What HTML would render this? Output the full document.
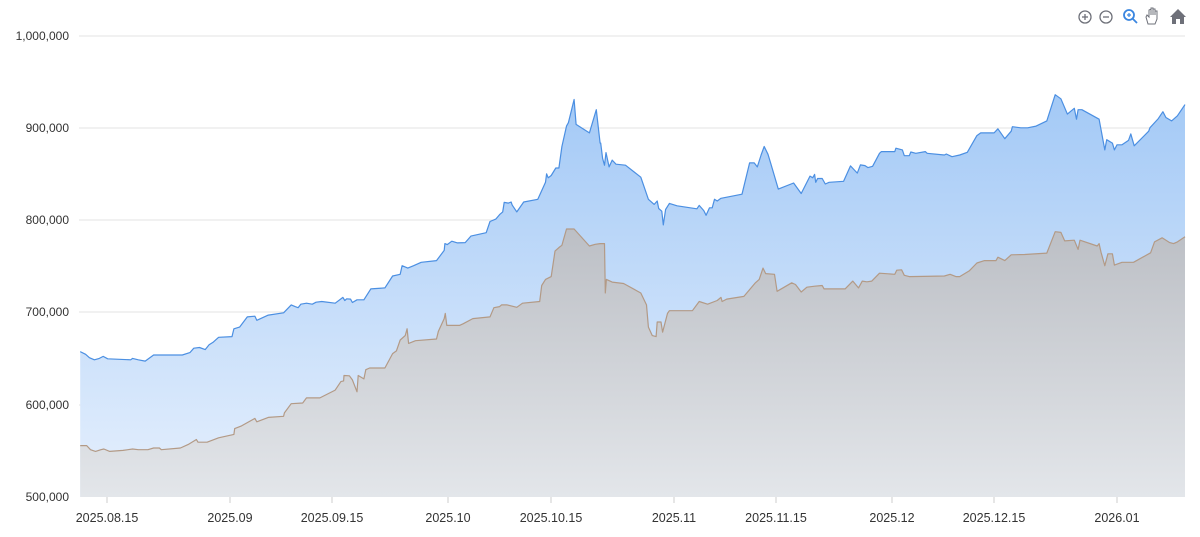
<!DOCTYPE html>
<html><head><meta charset="utf-8"><style>
html,body{margin:0;padding:0;background:#fff;width:1200px;height:537px;overflow:hidden}
svg{display:block;font-family:"Liberation Sans",sans-serif}
</style></head><body>
<svg id="s" width="1200" height="537" viewBox="0 0 1200 537">
<defs>
<linearGradient id="gb" x1="0" y1="0" x2="0" y2="1"><stop offset="0" stop-color="#a3c9f6"/><stop offset="1" stop-color="#e6f0fd"/></linearGradient>
<linearGradient id="gg" x1="0" y1="0" x2="0" y2="1"><stop offset="0" stop-color="#bcbfc5"/><stop offset="1" stop-color="#e3e6ea"/></linearGradient>
</defs>
<g stroke="#e3e3e3" stroke-width="1">
<line x1="79" x2="1185" y1="36" y2="36"/><line x1="79" x2="1185" y1="128" y2="128"/><line x1="79" x2="1185" y1="220" y2="220"/><line x1="79" x2="1185" y1="312" y2="312"/><line x1="79" x2="1185" y1="405" y2="405"/>
</g>
<g id="areas"></g>
<g fill="#333" font-size="12" text-anchor="end">
<text x="69" y="40">1,000,000</text><text x="69" y="132">900,000</text><text x="69" y="224">800,000</text><text x="69" y="316">700,000</text><text x="69" y="409">600,000</text><text x="69" y="501">500,000</text>
</g>
<g stroke="#ccc"><line x1="107" x2="107" y1="497" y2="503"/><line x1="230" x2="230" y1="497" y2="503"/><line x1="332" x2="332" y1="497" y2="503"/><line x1="448" x2="448" y1="497" y2="503"/><line x1="551" x2="551" y1="497" y2="503"/><line x1="674" x2="674" y1="497" y2="503"/><line x1="776" x2="776" y1="497" y2="503"/><line x1="892" x2="892" y1="497" y2="503"/><line x1="994" x2="994" y1="497" y2="503"/><line x1="1117" x2="1117" y1="497" y2="503"/></g>
<g fill="#333" font-size="12.5" text-anchor="middle">
<text x="107" y="522">2025.08.15</text><text x="230" y="522">2025.09</text><text x="332" y="522">2025.09.15</text><text x="448" y="522">2025.10</text><text x="551" y="522">2025.10.15</text><text x="674" y="522">2025.11</text><text x="776" y="522">2025.11.15</text><text x="892" y="522">2025.12</text><text x="994" y="522">2025.12.15</text><text x="1117" y="522">2026.01</text>
</g>
<g fill="none" stroke="#6e7079" stroke-width="1.3">
<circle cx="1085" cy="17" r="6"/><line x1="1082" x2="1088" y1="17" y2="17"/><line x1="1085" x2="1085" y1="14" y2="20"/>
<circle cx="1106" cy="17" r="6"/><line x1="1103" x2="1109" y1="17" y2="17"/>
</g>
<g fill="none" stroke="#3a86e0" stroke-width="1.8"><circle cx="1129" cy="15" r="5"/><line x1="1133" y1="19" x2="1137" y2="23"/><line x1="1127" x2="1131" y1="15" y2="15" stroke-width="1.2"/><line x1="1129" x2="1129" y1="13" y2="17" stroke-width="1.2"/></g>
<path d="M1148 24 L1146 17 L1147 15 L1149 17 L1149 10 L1151 9 L1151 15 L1151 8 L1153 8 L1153 15 L1153 9 L1155 9 L1155 15 L1155 11 L1157 11 L1157 19 L1155 24 Z" fill="none" stroke="#6e7079" stroke-width="1"/>
<path d="M1178 9 L1170 17 L1172 17 L1172 24 L1176 24 L1176 19 L1180 19 L1180 24 L1184 24 L1184 17 L1186 17 Z" fill="#6e7079"/>
</svg>
<script>
var b1=[208,1032,222,1040,232,1050,245,1056,258,1052,268,1046,280,1053,340,1056,345,1052,360,1056,378,1060,400,1042,475,1042,495,1035,505,1022,520,1020,535,1026,545,1012,555,1005,570,990,605,988,610,965,625,960,645,930,665,928,670,940,700,925,740,918,760,895,770,900,778,903,785,893,800,890,815,893,825,887,840,885,875,890,895,873,900,882,905,877,915,878,920,888,932,880,950,880,968,848,1005,845,1025,810,1045,805,1050,780,1065,787,1080,780,1100,770,1140,765,1160,735,1162,715,1168,718,1180,708,1195,713,1215,712,1230,693,1270,683,1280,650,1295,643,1305,630,1313,622,1317,594,1328,596,1335,593,1338,602,1350,622,1368,593,1405,585,1425,535,1428,510,1432,522,1440,515,1452,493,1460,493,1468,430,1480,370,1485,360,1500,292,1505,365,1540,390,1558,322,1568,420];
var b2=[0,420,5,465,10,485,14,448,22,490,30,470,40,482,65,485,105,520,125,585,140,600,148,590,152,612,160,620,164,660,170,615,180,597,200,604,252,613,258,603,270,618,276,632,285,610,292,610,298,585,305,590,315,582,370,570,390,478,402,478,410,490,420,455,428,430,438,453,445,478,465,555,505,537,525,568,548,517,555,522,560,512,563,535,568,524,580,524,588,540,598,535,636,532,654,487,672,508,680,484,692,486,700,492,712,488,730,450,735,445,770,445,773,435,790,440,795,457,808,457,812,446,825,450,850,445,855,450,900,455,905,452,920,460,940,455,960,447,985,398,995,390,1030,390,1040,378,1058,407,1075,385,1078,372,1100,375,1118,375,1140,370,1168,355,1190,278,1205,290,1222,335,1240,318,1246,350,1250,322,1260,322,1305,350,1320,440,1325,410,1340,420,1345,440,1352,425,1365,425,1382,412,1388,393,1397,428,1435,385,1438,375,1460,348,1472,328,1480,345,1495,355,1510,340,1530,307];
var g1=[208,1308,225,1308,235,1320,248,1325,262,1320,270,1318,285,1325,320,1322,345,1318,360,1320,385,1320,400,1315,415,1315,420,1320,470,1315,490,1305,512,1290,516,1298,540,1298,570,1285,610,1275,612,1258,630,1250,665,1228,670,1238,700,1225,740,1222,742,1212,760,1185,790,1183,800,1168,835,1168,875,1145,890,1120,897,1118,898,1102,912,1103,920,1115,932,1150,935,1102,950,1112,955,1085,965,1080,1005,1080,1025,1038,1035,1030,1045,998,1058,985,1063,965,1067,1008,1085,1000,1140,995,1145,972,1160,935,1163,920,1167,955,1200,955,1210,950,1235,935,1280,930,1290,903,1305,900,1310,895,1325,895,1350,902,1365,890,1410,885,1415,838,1425,820,1440,812,1450,737,1462,725,1468,720,1480,672,1500,672,1540,722,1555,717,1568,715];
var g2=[0,715,10,715,12,860,15,820,30,828,60,832,105,860,120,895,125,960,135,985,145,988,148,945,158,945,162,975,175,920,180,912,240,912,258,885,280,893,305,882,315,873,318,885,330,878,375,870,405,830,415,820,425,787,432,803,455,805,462,855,500,830,510,835,525,857,540,843,560,840,580,838,585,848,640,848,660,825,675,845,685,825,697,827,710,825,730,802,770,805,775,793,788,792,795,808,808,812,900,810,915,805,930,812,940,812,965,795,985,772,1005,765,1035,765,1040,755,1058,765,1075,748,1110,747,1168,743,1190,680,1205,682,1215,707,1240,705,1250,732,1255,705,1300,722,1305,715,1310,740,1320,780,1328,745,1340,745,1345,778,1365,770,1395,770,1440,742,1450,710,1470,698,1490,712,1500,715,1510,710,1530,695];
function pts(a,off){var r=[];for(var i=0;i<a.length;i+=2){var x=off?600.7+a[i]*0.3819:0.7+a[i]*0.3823;r.push(x.toFixed(1)+","+(a[i+1]*0.3407).toFixed(1));}return r;}
var B=pts(b1,0).concat(pts(b2,1)),G=pts(g1,0).concat(pts(g2,1));
function area(p){return "M"+p[0].split(",")[0]+",497 L"+p.join(" L")+" L"+p[p.length-1].split(",")[0]+",497 Z";}
var ns="http://www.w3.org/2000/svg",g=document.getElementById("areas");
function add(d,f,s){var e=document.createElementNS(ns,"path");e.setAttribute("d",d);e.setAttribute("fill",f);if(s){e.setAttribute("stroke",s);e.setAttribute("stroke-width","1.2");e.setAttribute("stroke-linejoin","round");}g.appendChild(e);}
add(area(B),"url(#gb)");
add(area(G),"url(#gg)");
add("M"+G.join(" L"),"none","#b39a86");
add("M"+B.join(" L"),"none","#4b8fe2");
</script>
</body></html>
